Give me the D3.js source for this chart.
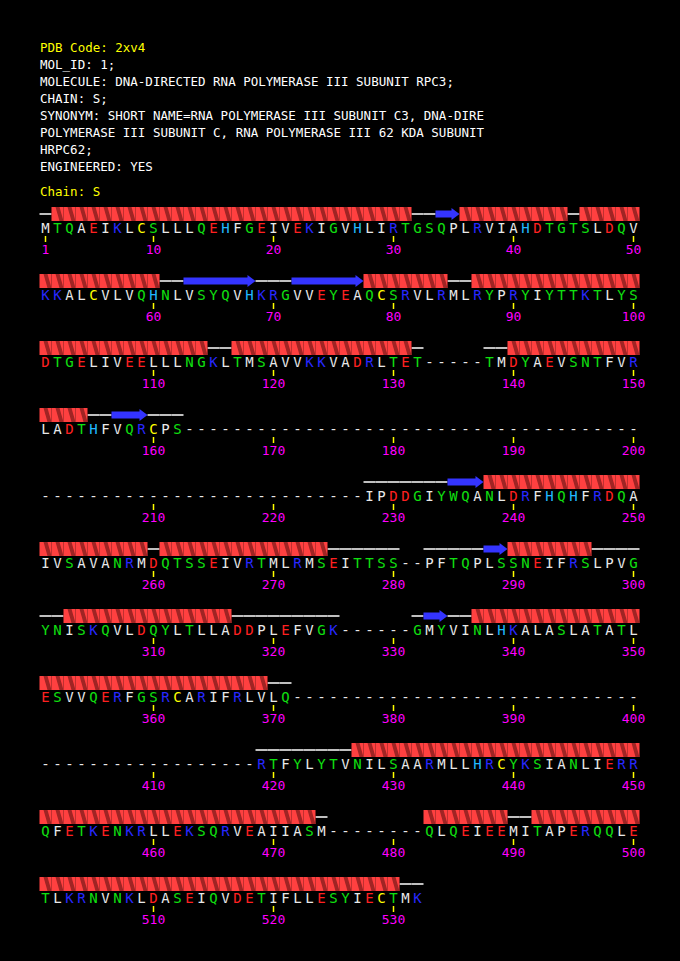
<!DOCTYPE html>
<html><head><meta charset="utf-8">
<script src="https://cdn.jsdelivr.net/npm/d3@7"></script>
<style>body{margin:0;background:#000;}svg{display:block;}</style>
</head><body>
<svg id="chart" width="680" height="961"></svg>
<script>
const headerLines = [
  ["PDB Code: 2xv4", "#ffff00"],
  ["MOL_ID: 1;", "#ffffff"],
  ["MOLECULE: DNA-DIRECTED RNA POLYMERASE III SUBUNIT RPC3;", "#ffffff"],
  ["CHAIN: S;", "#ffffff"],
  ["SYNONYM: SHORT NAME=RNA POLYMERASE III SUBUNIT C3, DNA-DIRE", "#ffffff"],
  ["POLYMERASE III SUBUNIT C, RNA POLYMERASE III 62 KDA SUBUNIT", "#ffffff"],
  ["HRPC62;", "#ffffff"],
  ["ENGINEERED: YES", "#ffffff"]
];
const chainLabel = "Chain: S";

const sequenceRows = [
  "MTQAEIKLCSLLLQEHFGEIVEKIGVHLIRTGSQPLRVIAHDTGTSLDQV",
  "KKALCVLVQHNLVSYQVHKRGVVEYEAQCSRVLRMLRYPRYIYTTKTLYS",
  "DTGELIVEELLLNGKLTMSAVVKKVADRLTET-----TMDYAEVSNTFVR",
  "LADTHFVQRCPS--------------------------------------",
  "---------------------------IPDDGIYWQANLDRFHQHFRDQA",
  "IVSAVANRMDQTSSEIVRTMLRMSEITTSS--PFTQPLSSNEIFRSLPVG",
  "YNISKQVLDQYLTLLADDPLEFVGK------GMYVINLHKALASLATATL",
  "ESVVQERFGSRCARIFRLVLQ-----------------------------",
  "------------------RTFYLYTVNILSAARMLLHRCYKSIANLIERR",
  "QFETKENKRLLEKSQRVEAIIASM--------QLQEIEEMITAPERQQLE",
  "TLKRNVNKLDASEIQVDETIFLLESYIECTMK"
];
const helices = [[2,31],[36,44],[46,50],[51,60],[78,84],[87,100],[101,114],[117,131],
  [140,150],[151,154],[238,250],[251,259],[261,274],[290,296],[303,316],[337,350],
  [351,369],[427,450],[451,473],[483,489],[492,500],[501,530]];
const strands = [[34,35],[63,68],[72,77],[157,159],[235,237],[288,289],[333,334]];

const residueColor = {
  D:"#ff2020", E:"#ff2020", K:"#2828ff", R:"#2828ff", H:"#20b8ff", C:"#ffff00",
  S:"#10e010", T:"#10e010", N:"#10e010", Q:"#10e010", G:"#10e010", Y:"#10e010", W:"#10e010"
};

const svg = d3.select("#chart");
svg.append("rect").attr("width", 680).attr("height", 961).attr("fill", "#000");

const font = "DejaVu Sans Mono, monospace";
svg.append("g").selectAll("text").data(headerLines).join("text")
  .attr("x", 40).attr("y", (d, i) => 52 + i * 17)
  .attr("font-family", font).attr("font-size", 12.5)
  .attr("fill", d => d[1]).text(d => d[0]);
svg.append("text").attr("x", 40).attr("y", 196).attr("font-family", font)
  .attr("font-size", 12.5).attr("fill", "#ffff00").text(chainLabel);

const x = d3.scaleLinear().domain([0, 49]).range([45.5, 633.5]);
const rowY = d3.scaleLinear().domain([0, 10]).range([228, 898]);
const cell = 12;

const residues = [];
sequenceRows.forEach((row, r) => {
  row.split("").forEach((c, k) => residues.push({pos: r * 50 + k + 1, c, r, k}));
});
const inSeg = (segs, p) => segs.some(s => p >= s[0] && p <= s[1]);

const g = svg.append("g");

// coil lines
residues.filter(d => d.c !== "-" && !inSeg(helices, d.pos) && !inSeg(strands, d.pos))
  .forEach(d => {
    g.append("line").attr("x1", x(d.k) - cell / 2).attr("x2", x(d.k) + cell / 2)
      .attr("y1", rowY(d.r) - 14).attr("y2", rowY(d.r) - 14)
      .attr("stroke", "#fff").attr("stroke-width", 1.5);
  });

// helices
residues.filter(d => inSeg(helices, d.pos)).forEach(d => {
  const x0 = x(d.k) - cell / 2, top = rowY(d.r) - 21, bot = rowY(d.r) - 7;
  g.append("rect").attr("x", x0).attr("y", top).attr("width", cell).attr("height", bot - top)
    .attr("fill", "#ff4040");
  g.append("polygon")
    .attr("points", [[x0 + 4, top], [x0 + 8, top], [x0 + 12, bot], [x0 + 8, bot]].join(" "))
    .attr("fill", "#a02424");
});

// strands
strands.forEach(s => {
  const r = Math.floor((s[0] - 1) / 50);
  const k0 = (s[0] - 1) % 50, k1 = (s[1] - 1) % 50;
  const x0 = x(k0) - cell / 2, x1 = x(k1) + cell / 2, yc = rowY(r) - 14;
  const hx = x1 - 8;
  g.append("polygon")
    .attr("points", [[x0, yc - 3.5], [hx, yc - 3.5], [hx, yc - 6], [x1, yc], [hx, yc + 6], [hx, yc + 3.5], [x0, yc + 3.5]].join(" "))
    .attr("fill", "#3434ff");
});

// letters
g.selectAll("text.res").data(residues).join("text")
  .attr("class", "res")
  .attr("x", d => x(d.k)).attr("y", d => rowY(d.r) + 5)
  .attr("text-anchor", "middle").attr("font-family", font).attr("font-size", 14)
  .attr("fill", d => residueColor[d.c] || "#e8e8e8").text(d => d.c);

// ticks and numbers
const ticks = residues.filter(d => d.pos === 1 || d.pos % 10 === 0);
g.selectAll("line.tick").data(ticks).join("line")
  .attr("x1", d => x(d.k)).attr("x2", d => x(d.k))
  .attr("y1", d => rowY(d.r) + 8).attr("y2", d => rowY(d.r) + 14)
  .attr("stroke", "#ffff00").attr("stroke-width", 1.5);
g.selectAll("text.num").data(ticks).join("text")
  .attr("x", d => x(d.k)).attr("y", d => rowY(d.r) + 26)
  .attr("text-anchor", "middle").attr("font-family", font).attr("font-size", 13)
  .attr("fill", "#ff00ff").text(d => d.pos);
</script>
</body></html>
